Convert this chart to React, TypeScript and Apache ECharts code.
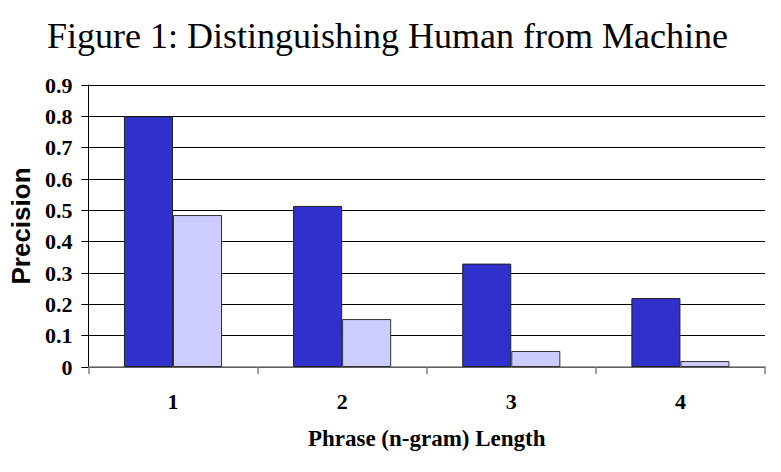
import React, { useEffect, useRef } from "react";
import * as echarts from "echarts";

const titleText = "Figure 1: Distinguishing Human from Machine";
const categories = ["1", "2", "3", "4"];
const humanValues = [0.8, 0.514, 0.33, 0.22];
const machineValues = [0.485, 0.153, 0.051, 0.019];
const xAxisName = "Phrase (n-gram) Length";
const yAxisName = "Precision";

export default function App() {
  const ref = useRef<HTMLDivElement>(null);
  useEffect(() => {
    document.body.style.margin = "0";
    const chart = echarts.init(ref.current!, null, { renderer: "svg" });
    const serif = "'Liberation Serif', 'Times New Roman', serif";
    chart.setOption({
      animation: false,
      backgroundColor: "#ffffff",
      title: {
        text: titleText,
        left: 42,
        top: 13,
        textStyle: { fontFamily: serif, fontSize: 36, fontWeight: "normal", color: "#000" },
      },
      grid: { left: 88, right: 16, top: 85, bottom: 105 },
      xAxis: {
        type: "category",
        data: categories,
        name: xAxisName,
        nameLocation: "middle",
        nameGap: 60,
        nameTextStyle: { fontFamily: serif, fontSize: 23, fontWeight: "bold", color: "#000" },
        axisLine: { lineStyle: { color: "#808080", width: 1.5 } },
        axisTick: { show: true, length: 7, lineStyle: { color: "#808080", width: 1.5 } },
        axisLabel: { fontFamily: serif, fontSize: 22, fontWeight: "bold", color: "#000", margin: 23 },
      },
      yAxis: {
        type: "value",
        min: 0,
        max: 0.9,
        interval: 0.1,
        name: yAxisName,
        nameLocation: "middle",
        nameGap: 52,
        nameTextStyle: { fontFamily: "'Liberation Sans', Arial, sans-serif", fontSize: 26, fontWeight: "bold", color: "#000" },
        axisLine: { show: true, lineStyle: { color: "#000", width: 1 } },
        axisTick: { show: true, length: 7, lineStyle: { color: "#000" } },
        axisLabel: {
          fontFamily: serif,
          fontSize: 22,
          fontWeight: "bold",
          color: "#000",
          margin: 16,
          formatter: (v: number) => (Math.abs(v) < 1e-9 ? "0" : v.toFixed(1)),
        },
        splitLine: { show: true, lineStyle: { color: "#000", width: 1 } },
      },
      series: [
        {
          name: "Human",
          type: "bar",
          data: humanValues,
          barWidth: "29%",
          barGap: "0%",
          itemStyle: { color: "#3030CC", borderColor: "#222", borderWidth: 1 },
        },
        {
          name: "Machine",
          type: "bar",
          data: machineValues,
          barWidth: "29%",
          barGap: "0%",
          itemStyle: { color: "#CCCCFF", borderColor: "#333", borderWidth: 1 },
        },
      ],
    });
    return () => chart.dispose();
  }, []);
  return <div ref={ref} style={{ width: 781, height: 472 }} />;
}
